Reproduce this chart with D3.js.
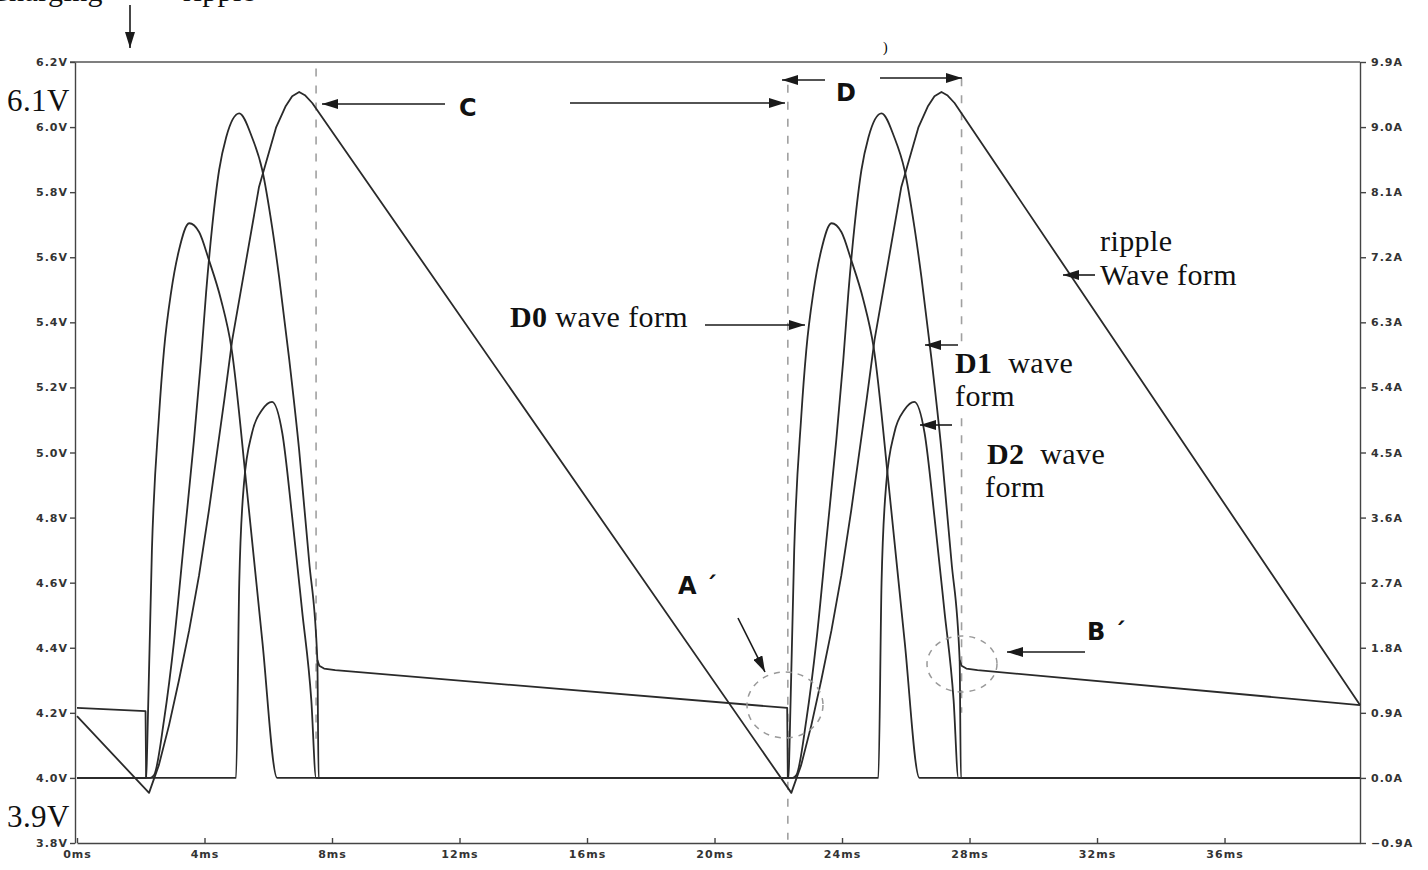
<!DOCTYPE html>
<html>
<head>
<meta charset="utf-8">
<script src="https://cdn.jsdelivr.net/npm/d3@7"></script>
<style>
  body { margin: 0; background: #fff; }
  .tick text { font-family: "DejaVu Sans", Verdana, sans-serif; font-weight: bold; font-size: 11px; letter-spacing: 1px; fill: #333; }
  .tick line, .domain { stroke: #444; stroke-width: 1.4; }
</style>
</head>
<body>
<svg id="chart" width="1428" height="870"></svg>
<script>

// axis ticks
var voltTicks = [3.8, 4.0, 4.2, 4.4, 4.6, 4.8, 5.0, 5.2, 5.4, 5.6, 5.8, 6.0, 6.2];
var ampTicks = [-0.9, 0.0, 0.9, 1.8, 2.7, 3.6, 4.5, 5.4, 6.3, 7.2, 8.1, 9.0, 9.9];
var msTicks = [0, 4, 8, 12, 16, 20, 24, 28, 32, 36];

// ripple waveform [ms, V]
var ripple = [[0,4.19],[2.26,3.954],[2.57,4.04],[2.89,4.163],[3.2,4.301],[3.52,4.454],[3.83,4.623],
  [4.14,4.823],[4.36,4.977],[4.62,5.161],[4.87,5.346],[5.31,5.592],[5.71,5.816],[6.25,6.0],
  [6.55,6.065],[6.75,6.095],[6.97,6.108],[7.15,6.098],[7.38,6.074],
  [22.41,3.954],[22.72,4.04],[23.04,4.163],[23.35,4.301],[23.67,4.454],[23.98,4.623],[24.29,4.823],
  [24.51,4.977],[24.77,5.161],[25.02,5.346],[25.46,5.592],[25.86,5.816],[26.4,6.0],[26.7,6.065],
  [26.9,6.095],[27.12,6.108],[27.3,6.098],[27.53,6.074],[40.25,4.224]];

// output hold level [ms, V], null = gap
var vOut = [[0,4.215],[2.15,4.205],[2.17,4.0], null,
  [7.54,4.362],[7.6,4.345],[7.75,4.336],[8.1,4.331],[22.28,4.215],[22.3,4.0], null,
  [27.69,4.362],[27.75,4.345],[27.9,4.336],[28.25,4.331],[40.25,4.224]];

// diode currents [ms, A]
var d0 = [[0,0],[2.17,0],[2.2,0.39],[2.35,3.15],[2.57,4.99],[2.73,5.92],[2.95,6.71],[3.2,7.3],
  [3.52,7.67],[3.83,7.55],[4.14,7.16],[4.52,6.61],[4.84,5.96],[5.34,3.94],[5.81,1.91],[6.28,0],
  [22.32,0],[22.35,0.39],[22.5,3.15],[22.72,4.99],[22.88,5.92],[23.1,6.71],[23.35,7.3],[23.67,7.67],
  [23.98,7.55],[24.29,7.16],[24.67,6.61],[24.99,5.96],[25.49,3.94],[25.96,1.91],[26.43,0],[40.25,0]];

var d1 = [[0,0],[2.3,0],[2.42,0.04],[2.73,0.8],[3.05,1.91],[3.36,3.29],[3.67,4.67],[3.89,5.78],
  [4.05,6.71],[4.24,7.62],[4.46,8.41],[4.68,8.86],[5.09,9.19],[5.49,8.86],[5.81,8.41],[6.12,7.62],
  [6.34,6.93],[6.66,5.78],[6.97,4.53],[7.28,3.01],[7.54,1.63],[7.58,0],
  [22.45,0],[22.57,0.04],[22.88,0.8],[23.2,1.91],[23.51,3.29],[23.82,4.67],[24.04,5.78],[24.2,6.71],
  [24.39,7.62],[24.61,8.41],[24.83,8.86],[25.24,9.19],[25.64,8.86],[25.96,8.41],[26.27,7.62],
  [26.49,6.93],[26.81,5.78],[27.12,4.53],[27.43,3.01],[27.69,1.63],[27.73,0],[40.25,0]];

var d2 = [[0,0],[4.99,0],[5.09,2.7],[5.24,4.08],[5.49,4.77],[5.81,5.09],[6.12,5.2],[6.44,4.77],
  [6.75,3.61],[7.06,2.32],[7.35,1.08],[7.5,0],
  [25.14,0],[25.24,2.7],[25.39,4.08],[25.64,4.77],[25.96,5.09],[26.27,5.2],[26.59,4.77],[26.9,3.61],
  [27.21,2.32],[27.5,1.08],[27.65,0],[40.25,0]];

// dashed markers [ms, top V, bottom V]
var markers = [[7.5, 6.18, 4.12], [22.3, 6.13, 3.81], [27.75, 6.15, 4.2]];

var svg = d3.select("#chart");

var x = d3.scaleLinear().domain([0, 40.25]).range([77, 1360]);
var yV = d3.scaleLinear().domain([3.8, 6.2]).range([843, 62]);
var yA = d3.scaleLinear().domain([-0.9, 9.9]).range([843, 62]);

var defs = svg.append("defs");
defs.append("marker").attr("id", "ah")
  .attr("viewBox", "0 0 16 10").attr("markerUnits", "userSpaceOnUse")
  .attr("markerWidth", 16).attr("markerHeight", 10)
  .attr("refX", 16).attr("refY", 5).attr("orient", "auto")
  .append("path").attr("d", "M0,0 L16,5 L0,10 Z").attr("fill", "#1a1a1a");

// frame top line
svg.append("line").attr("x1", 70).attr("x2", 1360).attr("y1", yV(6.2)).attr("y2", yV(6.2))
  .attr("stroke", "#555").attr("stroke-width", 1.6);

// axes
svg.append("g").attr("transform", "translate(75,0)")
  .call(d3.axisLeft(yV).tickValues(voltTicks).tickSize(5).tickSizeOuter(0).tickPadding(2)
    .tickFormat(function (d) { return d3.format(".1f")(d) + "V"; }));

svg.append("g").attr("transform", "translate(1360,0)")
  .call(d3.axisRight(yA).tickValues(ampTicks).tickSize(6).tickSizeOuter(0).tickPadding(5)
    .tickFormat(function (d) { return d3.format(".1f")(d) + "A"; }));

svg.append("g").attr("transform", "translate(0,843)")
  .call(d3.axisBottom(x).tickValues(msTicks).tickSize(-5).tickSizeOuter(0).tickPadding(7)
    .tickFormat(function (d) { return d + "ms"; }));

// dashed markers
svg.selectAll(".mark").data(markers).enter().append("line")
  .attr("x1", function (d) { return x(d[0]); }).attr("x2", function (d) { return x(d[0]); })
  .attr("y1", function (d) { return yV(d[1]); }).attr("y2", function (d) { return yV(d[2]); })
  .attr("stroke", "#a0a0a0").attr("stroke-width", 1.6).attr("stroke-dasharray", "8,9");

// waveforms
var lineV = d3.line()
  .x(function (d) { return x(d[0]); }).y(function (d) { return yV(d[1]); });
var lineA = d3.line().curve(d3.curveMonotoneX)
  .x(function (d) { return x(d[0]); }).y(function (d) { return yA(d[1]); });
var lineHold = d3.line().defined(function (d) { return d !== null; })
  .x(function (d) { return x(d[0]); }).y(function (d) { return yV(d[1]); });

function wave(path) {
  svg.append("path").attr("d", path).attr("fill", "none")
    .attr("stroke", "#2a2a2a").attr("stroke-width", 1.8).attr("stroke-linejoin", "round");
}
wave(lineA(d0));
wave(lineA(d1));
wave(lineA(d2));
wave(lineV(ripple));
wave(lineHold(vOut));

// dashed circles
svg.append("ellipse").attr("cx", 785).attr("cy", 705).attr("rx", 38).attr("ry", 33)
  .attr("fill", "none").attr("stroke", "#999").attr("stroke-width", 1.5).attr("stroke-dasharray", "6,6");
svg.append("ellipse").attr("cx", 962).attr("cy", 664).attr("rx", 35).attr("ry", 28)
  .attr("fill", "none").attr("stroke", "#999").attr("stroke-width", 1.5).attr("stroke-dasharray", "6,6");

// white label boxes
var boxes = [[0, 72, 72, 44], [0, 792, 72, 40], [946, 343, 130, 72], [976, 436, 136, 70], [818, 40, 68, 17]];
svg.selectAll(".box").data(boxes).enter().append("rect")
  .attr("x", function (d) { return d[0]; }).attr("y", function (d) { return d[1]; })
  .attr("width", function (d) { return d[2]; }).attr("height", function (d) { return d[3]; })
  .attr("fill", "#fff");

// arrows
var arrows = [[445,104,322,104],[570,103,785,103],[825,80,782,80],[880,78,962,78],
  [705,325,805,325],[1095,275,1063,275],[958,345,925,345],[952,425,920,425],
  [738,618,765,672],[1085,652,1007,652],[130,5,130,48]];
svg.selectAll(".arr").data(arrows).enter().append("line")
  .attr("x1", function (d) { return d[0]; }).attr("y1", function (d) { return d[1]; })
  .attr("x2", function (d) { return d[2]; }).attr("y2", function (d) { return d[3]; })
  .attr("stroke", "#1a1a1a").attr("stroke-width", 1.6).attr("marker-end", "url(#ah)");

// serif labels
var serif = "'Liberation Serif', 'Times New Roman', serif";
function label(tx, ty, parts, size, anchor) {
  var t = svg.append("text").attr("x", tx).attr("y", ty)
    .attr("font-family", serif).attr("font-size", size || 30).attr("fill", "#111")
    .attr("letter-spacing", "0.4px").attr("text-anchor", anchor || "start")
    .style("white-space", "pre");
  parts.forEach(function (p) {
    t.append("tspan").text(p[0]).attr("font-weight", p[1] ? "bold" : "normal");
  });
}
label(7, 111, [["6.1V"]], 31);
label(7, 827, [["3.9V"]], 31);
label(1100, 251, [["ripple"]]);
label(1100, 285, [["Wave form"]]);
label(510, 327, [["D0", 1], [" wave form"]]);
label(955, 373, [["D1", 1], ["  wave"]]);
label(955, 406, [["form"]]);
label(987, 464, [["D2", 1], ["  wave"]]);
label(985, 497, [["form"]]);
label(103, 1, [["Charging"]], 30, "end");
label(183, 1, [["ripple"]], 30);
svg.append("text").attr("x", 883).attr("y", 52).attr("font-family", serif).attr("font-size", 14)
  .text(")");

// sans letters
var sans = "'DejaVu Sans', Verdana, sans-serif";
function letter(tx, ty, s) {
  svg.append("text").attr("x", tx).attr("y", ty).attr("font-family", sans)
    .attr("font-weight", "bold").attr("font-size", 24).attr("fill", "#111").text(s);
}
letter(459, 116, "C");
letter(836, 101, "D");
letter(678, 594, "A \u00b4");
letter(1087, 640, "B \u00b4");

</script>
</body>
</html>
